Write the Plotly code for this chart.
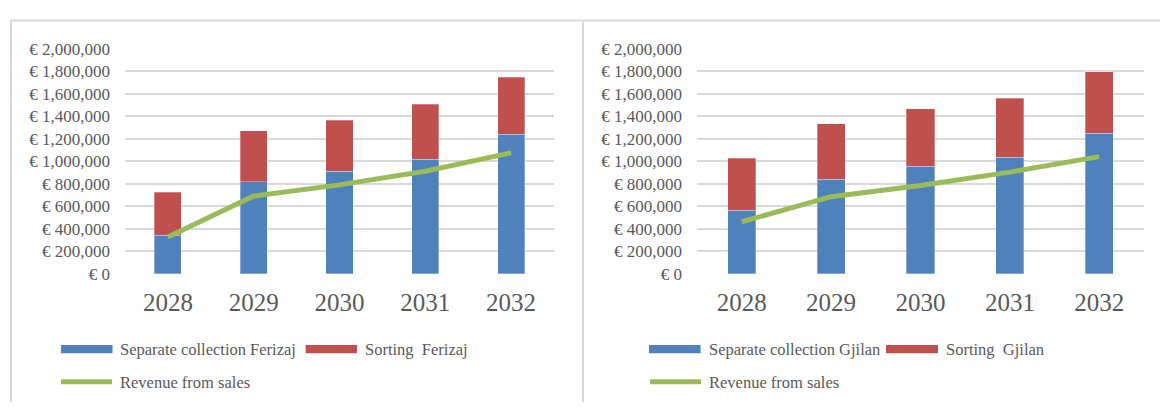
import plotly.graph_objects as go

# ---- data
years = ["2028", "2029", "2030", "2031", "2032"]

ferizaj_collection = [342000, 819000, 912000, 1020000, 1240000]
ferizaj_sorting = [384000, 452000, 455000, 488000, 508000]
ferizaj_revenue = [328000, 692000, 791000, 912000, 1076000]

gjilan_collection = [565000, 842000, 955000, 1037000, 1249000]
gjilan_sorting = [463000, 494000, 511000, 525000, 548000]
gjilan_revenue = [463000, 686000, 785000, 904000, 1042000]

y_ticks = list(range(0, 2000001, 200000))
y_ticktext = ["€ {:,}".format(v) for v in y_ticks]

# ---- styles
W, H = 1160, 412
BLUE = "#4F81BD"
RED = "#C0504D"
GREEN = "#9BBB59"
GRID = "#D9D9D9"
TEXT = "#595959"
FONT = "Liberation Serif"


def px(x):
    return x / W


def py(y):
    return 1 - y / H


fig = go.Figure()

panels = [
    dict(xa="x", ya="y", coll=ferizaj_collection, sort=ferizaj_sorting, rev=ferizaj_revenue,
         town="Ferizaj"),
    dict(xa="x2", ya="y2", coll=gjilan_collection, sort=gjilan_sorting, rev=gjilan_revenue,
         town="Gjilan"),
]

for p in panels:
    fig.add_trace(go.Bar(
        x=years, y=p["coll"], name="Separate collection " + p["town"],
        marker=dict(color=BLUE, line=dict(color="rgba(255,255,255,0.5)", width=0.6)),
        xaxis=p["xa"], yaxis=p["ya"], showlegend=False,
    ))
    fig.add_trace(go.Bar(
        x=years, y=p["sort"], name="Sorting  " + p["town"],
        marker=dict(color=RED, line=dict(color="rgba(255,255,255,0.5)", width=0.6)),
        xaxis=p["xa"], yaxis=p["ya"], showlegend=False,
    ))
    fig.add_trace(go.Scatter(
        x=years, y=p["rev"], name="Revenue from sales", mode="lines",
        line=dict(color=GREEN, width=5),
        xaxis=p["xa"], yaxis=p["ya"], showlegend=False,
    ))

axis_common_y = dict(
    range=[0, 2000000], tickmode="array", tickvals=y_ticks, ticktext=y_ticktext,
    showgrid=True, gridcolor=GRID, gridwidth=2, zeroline=False, showline=False,
    tickfont=dict(family=FONT, size=17, color=TEXT), ticklabelstandoff=14,
    domain=[py(277.7), py(41.7)], fixedrange=True,
)
axis_common_x = dict(
    type="category", showgrid=False, zeroline=False, showline=False,
    tickfont=dict(family=FONT, size=25, color=TEXT), ticklabelstandoff=11,
    fixedrange=True,
)

fig.update_layout(
    width=W, height=H,
    margin=dict(l=0, r=0, t=0, b=0),
    paper_bgcolor="white", plot_bgcolor="white",
    barmode="stack", bargap=0.685,
    showlegend=False,
    xaxis=dict(axis_common_x, domain=[px(125), px(554)], anchor="y"),
    yaxis=dict(axis_common_y, anchor="x"),
    xaxis2=dict(axis_common_x, domain=[px(697), px(1144)], anchor="y2"),
    yaxis2=dict(axis_common_y, anchor="x2"),
)

# ---- chart borders
shapes = [
    dict(type="line", xref="paper", yref="paper", x0=px(10), x1=1, y0=py(12), y1=py(12),
         line=dict(color=GRID, width=2)),
    dict(type="line", xref="paper", yref="paper", x0=px(11), x1=px(11), y0=py(12), y1=0,
         line=dict(color=GRID, width=2)),
    dict(type="line", xref="paper", yref="paper", x0=px(583), x1=px(583), y0=py(12), y1=0,
         line=dict(color=GRID, width=2)),
]

# ---- hand-drawn legends (Excel-style long swatches)
annotations = []
legend_pos = [
    dict(blue=(61, 112.5), red=(305.6, 357), green=(59, 114), t1=117.6, t2=362.5, t3=118),
    dict(blue=(649, 700.6), red=(886, 938), green=(648, 703), t1=706.5, t2=943.7, t3=706.5),
]
for p, lg in zip(panels, legend_pos):
    shapes.append(dict(type="rect", xref="paper", yref="paper",
                       x0=px(lg["blue"][0]), x1=px(lg["blue"][1]), y0=py(361), y1=py(352.3),
                       fillcolor=BLUE, line=dict(width=0)))
    shapes.append(dict(type="rect", xref="paper", yref="paper",
                       x0=px(lg["red"][0]), x1=px(lg["red"][1]), y0=py(361), y1=py(352.3),
                       fillcolor=RED, line=dict(width=0)))
    shapes.append(dict(type="line", xref="paper", yref="paper",
                       x0=px(lg["green"][0] + 2), x1=px(lg["green"][1] - 2), y0=py(390.7), y1=py(390.7),
                       line=dict(color=GREEN, width=5)))
    for tx, ty, txt in [
        (lg["t1"], 356.7, "Separate collection " + p["town"]),
        (lg["t2"], 356.7, "Sorting  " + p["town"]),
        (lg["t3"], 391.5, "Revenue from sales"),
    ]:
        annotations.append(dict(
            x=px(tx), y=py(ty), xref="paper", yref="paper", xanchor="left", yanchor="middle",
            text=txt.replace("  ", "&nbsp; "), showarrow=False,
            font=dict(family=FONT, size=16.5, color=TEXT),
        ))

fig.update_layout(shapes=shapes, annotations=annotations)

fig.write_html("out.html", config={"displayModeBar": False},
               post_script="document.body.style.margin='0';")
